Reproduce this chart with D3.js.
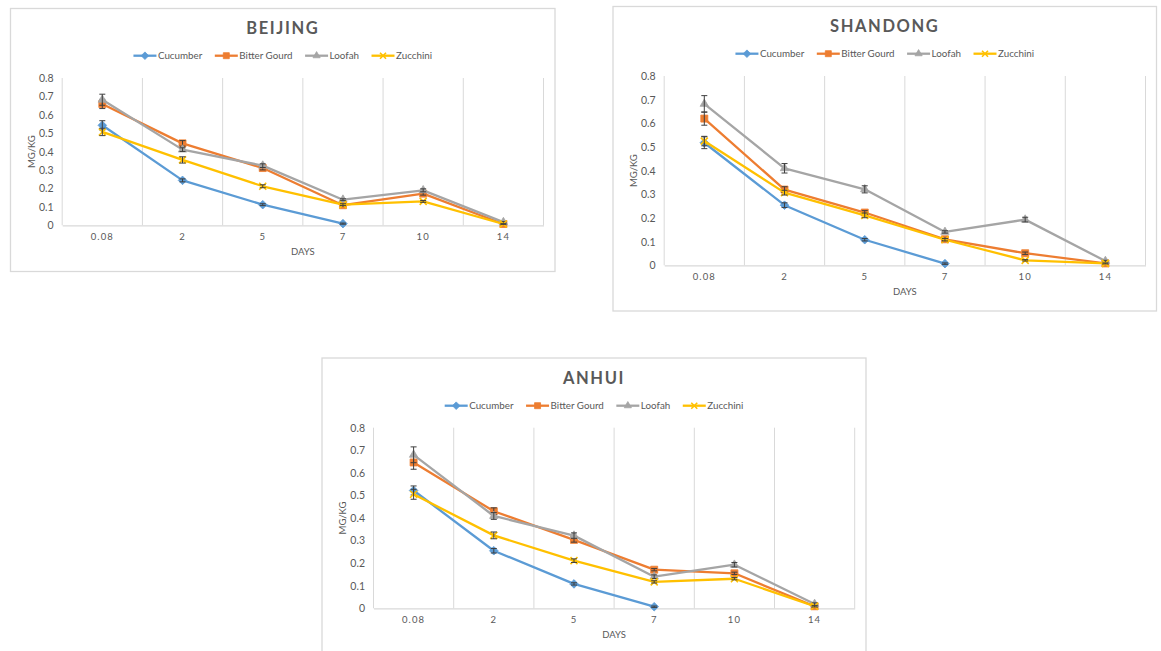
<!DOCTYPE html>
<html>
<head>
<meta charset="utf-8">
<script src="https://cdn.jsdelivr.net/npm/d3@7"></script>
<style>
  body { margin: 0; background: #fff; }
  svg { display: block; }
  text { font-family: Lato, "Open Sans", "Noto Sans", sans-serif; fill: #595959; }
</style>
</head>
<body>
<svg id="chart" width="1161" height="651"></svg>
<script>
// ---- shared categories and labels ----
const days = ["0.08", "2", "5", "7", "10", "14"];
const seriesNames = ["Cucumber", "Bitter Gourd", "Loofah", "Zucchini"];
const seriesColors = ["#5b9bd5", "#ed7d31", "#a5a5a5", "#ffc000"];
const seriesMarkers = ["diamond", "square", "triangle", "cross"];
const yTicks = [0, 0.1, 0.2, 0.3, 0.4, 0.5, 0.6, 0.7, 0.8];
const yTickLabels = ["0", "0.1", "0.2", "0.3", "0.4", "0.5", "0.6", "0.7", "0.8"];

// ---- Beijing (mg/kg) ----
const beijingCucumber    = [0.543, 0.244, 0.112, 0.009, null, null];
const beijingBitterGourd = [0.659, 0.445, 0.311, 0.109, 0.172, 0.007];
const beijingLoofah      = [0.682, 0.411, 0.324, 0.139, 0.190, 0.017];
const beijingZucchini    = [0.507, 0.355, 0.212, 0.112, 0.130, 0.007];
const beijingCucumberErr    = [0.025, 0.008, 0.005, 0.003, null, null];
const beijingBitterGourdErr = [0.025, 0.015, 0.010, 0.005, 0.008, 0.003];
const beijingLoofahErr      = [0.030, 0.010, 0.010, 0.005, 0.008, 0.003];
const beijingZucchiniErr    = [0.020, 0.017, 0.008, 0.005, 0.005, 0.002];

// ---- Shandong (mg/kg) ----
const shandongCucumber    = [0.518, 0.254, 0.108, 0.007, null, null];
const shandongBitterGourd = [0.620, 0.320, 0.223, 0.110, 0.051, 0.008];
const shandongLoofah      = [0.682, 0.410, 0.321, 0.141, 0.193, 0.018];
const shandongZucchini    = [0.525, 0.307, 0.211, 0.108, 0.021, 0.008];
const shandongCucumberErr    = [0.025, 0.010, 0.005, 0.003, null, null];
const shandongBitterGourdErr = [0.028, 0.012, 0.008, 0.005, 0.005, 0.003];
const shandongLoofahErr      = [0.035, 0.020, 0.015, 0.005, 0.010, 0.003];
const shandongZucchiniErr    = [0.020, 0.010, 0.010, 0.005, 0.003, 0.002];

// ---- Anhui (mg/kg) ----
const anhuiCucumber    = [0.522, 0.255, 0.108, 0.007, null, null];
const anhuiBitterGourd = [0.646, 0.430, 0.303, 0.171, 0.155, 0.009];
const anhuiLoofah      = [0.680, 0.409, 0.322, 0.140, 0.193, 0.019];
const anhuiZucchini    = [0.505, 0.323, 0.211, 0.117, 0.131, 0.009];
const anhuiCucumberErr    = [0.020, 0.010, 0.005, 0.003, null, null];
const anhuiBitterGourdErr = [0.030, 0.015, 0.010, 0.005, 0.005, 0.003];
const anhuiLoofahErr      = [0.035, 0.015, 0.012, 0.008, 0.010, 0.005];
const anhuiZucchiniErr    = [0.022, 0.015, 0.008, 0.005, 0.005, 0.003];

// ---- panel layout ----
const panels = [
  { title: "BEIJING",
    values: [beijingCucumber, beijingBitterGourd, beijingLoofah, beijingZucchini],
    errors: [beijingCucumberErr, beijingBitterGourdErr, beijingLoofahErr, beijingZucchiniErr],
    box: [10.5, 8.5, 555, 271.5], plot: [62.2, 78, 543.5, 225.3],
    titleY: 28, legendY: 55.7, yLabelX: 31.6 },
  { title: "SHANDONG",
    values: [shandongCucumber, shandongBitterGourd, shandongLoofah, shandongZucchini],
    errors: [shandongCucumberErr, shandongBitterGourdErr, shandongLoofahErr, shandongZucchiniErr],
    box: [613, 6.5, 1156.5, 311], plot: [664.2, 76, 1145.5, 265.3],
    titleY: 26, legendY: 53.7, yLabelX: 633.6 },
  { title: "ANHUI",
    values: [anhuiCucumber, anhuiBitterGourd, anhuiLoofah, anhuiZucchini],
    errors: [anhuiCucumberErr, anhuiBitterGourdErr, anhuiLoofahErr, anhuiZucchiniErr],
    box: [322, 358, 866, 700], plot: [373.5, 427.7, 854.7, 608.3],
    titleY: 378, legendY: 405.7, yLabelX: 342.9 }
];

const svg = d3.select("#chart");
const GRID = "#d9d9d9";
const ERR = "#3f3f3f";

function markerPath(kind, size) {
  const h = size / 2;
  switch (kind) {
    case "diamond": return `M0,${-h - 0.8}L${h + 0.8},0L0,${h + 0.8}L${-h - 0.8},0Z`;
    case "square": return `M${-h},${-h}H${h}V${h}H${-h}Z`;
    case "triangle": return d3.symbol(d3.symbolTriangle, size * size * 0.62)();
    default: return `M${-h},${-h}L${h},${h}M${-h},${h}L${h},${-h}`;
  }
}

function drawMarker(sel, kind, color, size) {
  const p = sel.append("path").attr("d", markerPath(kind, size));
  if (kind === "cross") p.attr("fill", "none").attr("stroke", color).attr("stroke-width", 1.6);
  else p.attr("fill", color).attr("stroke", color).attr("stroke-width", 0.8);
  return p;
}

function drawPanel(P) {
  const [bx0, by0, bx1, by1] = P.box;
  const [left, top, right, bottom] = P.plot;
  const g = svg.append("g");

  // chart frame
  g.append("rect")
    .attr("x", bx0).attr("y", by0)
    .attr("width", bx1 - bx0).attr("height", by1 - by0)
    .attr("fill", "#fff").attr("stroke", GRID).attr("stroke-width", 1.3);

  const x = d3.scaleBand().domain(days).range([left, right]).padding(0);
  const y = d3.scaleLinear().domain([0, 0.8]).range([bottom, top]);
  const cx = d => x(d) + x.bandwidth() / 2;

  // vertical gridlines at category boundaries
  const edges = days.map(d => x(d)).concat([right]);
  g.append("g").selectAll("line").data(edges).join("line")
    .attr("x1", d => d).attr("x2", d => d)
    .attr("y1", top).attr("y2", bottom)
    .attr("stroke", GRID).attr("stroke-width", 1);

  // category axis
  const xAxis = g.append("g").attr("transform", `translate(0,${bottom})`)
    .call(d3.axisBottom(x).tickSize(0).tickPadding(0));
  xAxis.select(".domain").attr("stroke", GRID).attr("stroke-width", 1.2);
  xAxis.selectAll("text")
    .attr("y", 11.5).attr("dy", "0.35em")
    .attr("font-size", 9.5).attr("letter-spacing", 1.1)
    .style("font-family", "Lato, sans-serif").attr("fill", "#595959");

  // value axis
  const yAxis = g.append("g").attr("transform", `translate(${left},0)`)
    .call(d3.axisLeft(y).tickValues(yTicks).tickFormat((d, i) => yTickLabels[i]).tickSize(0).tickPadding(8.5));
  yAxis.select(".domain").remove();
  yAxis.selectAll("text")
    .attr("font-size", 10.5).style("font-family", "Lato, sans-serif").attr("fill", "#595959");

  // axis titles
  g.append("text")
    .attr("x", (left + right) / 2).attr("y", bottom + 26.5).attr("dy", "0.35em")
    .attr("text-anchor", "middle").attr("font-size", 9.5).text("DAYS");
  g.append("text")
    .attr("transform", `translate(${P.yLabelX},${(top + bottom) / 2}) rotate(-90)`)
    .attr("dy", "0.35em").attr("text-anchor", "middle").attr("font-size", 9.5).text("MG/KG");

  // chart title
  g.append("text")
    .attr("x", (bx0 + bx1) / 2).attr("y", P.titleY).attr("dy", "0.36em")
    .attr("text-anchor", "middle").attr("font-size", 16.5).attr("font-weight", 700)
    .attr("letter-spacing", 1.6).attr("fill", "#595959").text(P.title);

  // series
  seriesNames.forEach((name, si) => {
    const vals = P.values[si];
    const errs = P.errors[si];
    const color = seriesColors[si];
    const pts = days.map((d, i) => ({ d, v: vals[i], e: errs[i] }));
    const sg = g.append("g");

    sg.append("path").datum(pts)
      .attr("fill", "none").attr("stroke", color).attr("stroke-width", 2.3)
      .attr("stroke-linejoin", "round").attr("stroke-linecap", "round")
      .attr("d", d3.line().defined(p => p.v != null).x(p => cx(p.d)).y(p => y(p.v)));

    pts.filter(p => p.v != null).forEach(p => {
      const m = sg.append("g").attr("transform", `translate(${cx(p.d)},${y(p.v)})`);
      drawMarker(m, seriesMarkers[si], color, 7);
    });

    // standard-deviation error bars
    const eg = sg.append("g").attr("stroke", ERR).attr("stroke-width", 1).attr("fill", "none");
    pts.filter(p => p.v != null && p.e).forEach(p => {
      const xx = cx(p.d), y0 = y(p.v - p.e), y1 = y(p.v + p.e);
      eg.append("line").attr("x1", xx).attr("x2", xx).attr("y1", y0).attr("y2", y1);
      eg.append("line").attr("x1", xx - 3).attr("x2", xx + 3).attr("y1", y0).attr("y2", y0);
      eg.append("line").attr("x1", xx - 3).attr("x2", xx + 3).attr("y1", y1).attr("y2", y1);
    });
  });

  // legend, centred on the frame
  const lg = g.append("g");
  const lineLen = 23, textGap = 1.5, entryGap = 12.5;
  const items = seriesNames.map((name, si) => {
    const it = lg.append("g");
    it.append("line").attr("x1", 0).attr("x2", lineLen).attr("y1", 0).attr("y2", 0)
      .attr("stroke", seriesColors[si]).attr("stroke-width", 2.3);
    const m = it.append("g").attr("transform", `translate(${lineLen / 2},0)`);
    drawMarker(m, seriesMarkers[si], seriesColors[si], 6);
    const t = it.append("text").attr("x", lineLen + textGap).attr("dy", "0.35em")
      .attr("font-size", 9.8).text(name);
    return { it, w: lineLen + textGap + t.node().getComputedTextLength() };
  });
  const total = d3.sum(items, d => d.w) + entryGap * (items.length - 1);
  let pos = (bx0 + bx1) / 2 - total / 2;
  items.forEach(d => {
    d.it.attr("transform", `translate(${pos},${P.legendY})`);
    pos += d.w + entryGap;
  });
}

panels.forEach(drawPanel);
</script>
</body>
</html>
